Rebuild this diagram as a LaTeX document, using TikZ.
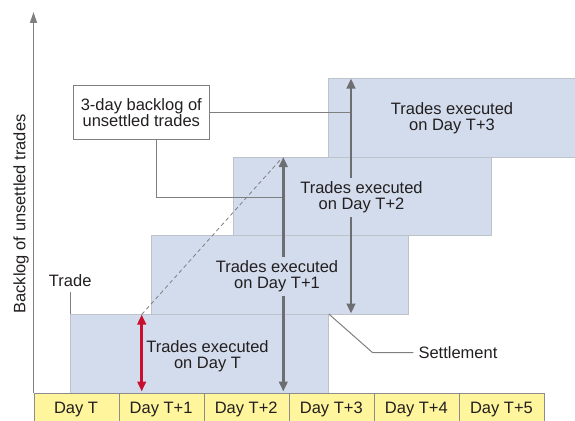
\documentclass[tikz,border=0pt]{standalone}
\usepackage{fontspec}
\setmainfont{Liberation Sans}
\usetikzlibrary{arrows.meta}
\definecolor{boxblue}{HTML}{D3DCEC}
\definecolor{boxedge}{HTML}{BDC2CB}
\definecolor{dayyellow}{HTML}{FFF59D}
\definecolor{celledge}{HTML}{8C8C8C}
\definecolor{arrgray}{HTML}{6D6E71}
\definecolor{arrred}{HTML}{C8102E}
\definecolor{linegray}{HTML}{7F7F7F}
\definecolor{textgray}{HTML}{231F20}
\tikzset{
  tradebox/.style={draw=boxedge, fill=boxblue, line width=1.1pt, inner sep=0pt, anchor=north west, minimum height=79pt},
  daycell/.style={draw=celledge, fill=dayyellow, line width=1.1pt, inner sep=0pt, anchor=north west, minimum width=85.08pt, minimum height=32pt},
  daytext/.style={anchor=base, inner sep=0pt, text=textgray},
  tradetext/.style={align=center, fill=boxblue, inner sep=3.5pt, text=textgray},
  gapless/.style={align=center, inner sep=0pt, text=textgray},
  bigarrow/.style={draw=arrgray, line width=2.5pt, -{Triangle[length=10pt,width=8.5pt]}},
  bigarrow2/.style={draw=arrgray, line width=2.5pt, {Triangle[length=10pt,width=8.5pt]}-{Triangle[length=10pt,width=8.5pt]}},
  redarrow/.style={draw=arrred, line width=2.5pt, {Triangle[length=10pt,width=8.5pt]}-{Triangle[length=10pt,width=8.5pt]}},
  thinline/.style={draw=linegray, line width=1pt},
  axisline/.style={draw=linegray, line width=1.3pt, -{Triangle[length=11pt,width=7pt]}}
}
\begin{document}
\begin{tikzpicture}[x=1pt,y=-1pt,font=\fontsize{16.5}{16}\selectfont]
\useasboundingbox (0,0) rectangle (575,420);
\begin{scope}
\clip (0,0) rectangle (575,420);
% trade blocks
\node[tradebox, minimum width=257.7pt] (bT) at (70,314) {};
\node[tradebox, minimum width=257.3pt] (bT1) at (151,235) {};
\node[tradebox, minimum width=257.7pt, minimum height=78pt] (bT2) at (233,157) {};
\node[tradebox, minimum width=260pt] (bT3) at (328.3,78) {};
% day cells
\foreach \i/\lab in {0/Day T,1/Day T+1,2/Day T+2,3/Day T+3,4/Day T+4,5/Day T+5}{
  \node[daycell] (c\i) at ({33.5+85.08*\i},393) {};
  \node[daytext] (d\i) at ({33.5+85.08*\i+42.54},413.3) {\lab};
}
% axis
\coordinate (axisbot) at (33.5,393);
\coordinate (axistop) at (33.5,12);
\draw[axisline] (axisbot) -- (axistop);
\node[rotate=90, text=textgray, inner sep=0pt] (ylab) at (21,214) {Backlog of unsettled trades};
% arrow endpoints
\coordinate (redtop) at (141.7,314.5);
\coordinate (redbot) at (141.7,391.5);
\coordinate (a1top) at (283.3,157);
\coordinate (a1bot) at (283.3,391.5);
\coordinate (a2top) at (351,78.5);
\coordinate (a2bot) at (351,313.5);
\coordinate (dashend) at (281,159);
% dashed line
\draw[draw=linegray, line width=0.8pt, dash pattern=on 4pt off 3pt] (redtop) -- (dashend);
% label box and connectors
\node[draw=linegray, line width=1pt, fill=white, align=center, minimum width=136pt, minimum height=53.6pt, inner sep=0pt, text=textgray] (label) at (141.3,112.5) {3-day backlog of\\unsettled trades};
\coordinate (lbend) at (156,197.3);
\draw[thinline] (label.east) -- (label.east -| a2top);
\draw[thinline] (label.south -| lbend) -- (lbend) -- (lbend -| a1top);
% arrows
\draw[redarrow] (redbot) -- (redtop);
\draw[bigarrow2] (a1bot) -- (a1top);
\draw[bigarrow2] (a2bot) -- (a2top);
% block texts
\node[gapless] (tT) at (207.5,356.1) {Trades executed\\on Day T};
\node[tradetext] (tT1) at (277,276.6) {Trades executed\\on Day T+1};
\node[tradetext] (tT2) at (361.5,197.4) {Trades executed\\on Day T+2};
\node[gapless] (tT3) at (452,118.3) {Trades executed\\on Day T+3};
% trade label
\node[daytext] (trade) at (70.2,286) {Trade};
\coordinate (tradefoot) at (70,291.7);
\draw[thinline] (tradefoot) -- (bT.north west);
% settlement label
\node[anchor=west, inner xsep=5pt, inner ysep=0pt, text=textgray] (settle) at (413.3,352.7) {Settlement};
\coordinate (sbend) at (372.7,352.7);
\draw[thinline] (bT.north east) -- (sbend) -- (settle.west);
\end{scope}
\end{tikzpicture}
\end{document}
